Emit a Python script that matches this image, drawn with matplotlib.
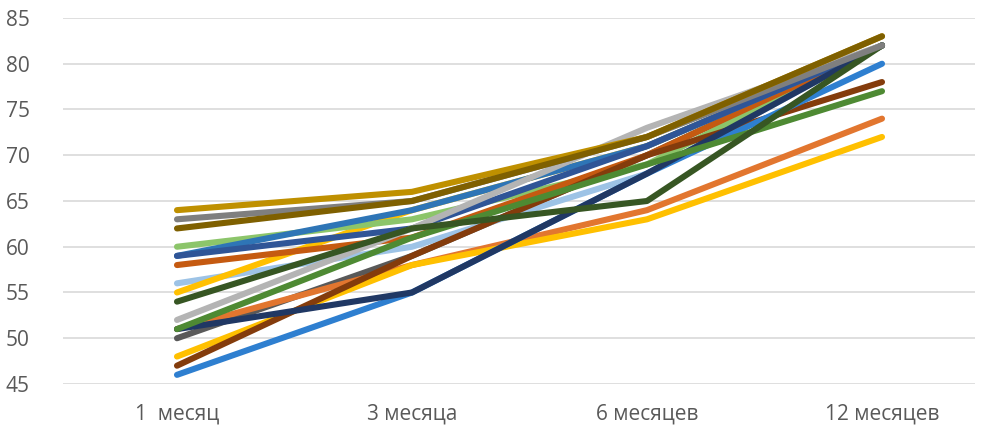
import matplotlib
matplotlib.use("Agg")
import matplotlib.pyplot as plt

periods = ["1  месяц", "3 месяца", "6 месяцев", "12 месяцев"]

# one list per patient group, values at the four follow-up points
s_blue_low = [46, 55, 68, 80]
s_brown = [47, 59, 70, 78]
s_yellow_low = [48, 58, 63, 72]
s_orange_low = [51, 58, 64, 74]
s_darkgray = [50, 59, 70, 82]
s_green = [51, 61, 69, 77]
s_navy = [51, 55, 68, 82]
s_lightgray = [52, 62, 73, 82]
s_darkgreen = [54, 62, 65, 82]
s_yellow = [55, 64, 71, 82]
s_lightblue = [56, 60, 68, 82]
s_orange = [58, 61, 70, 82]
s_blue = [59, 62, 71, 82]
s_blue2 = [59, 64, 71, 82]
s_lightgreen = [60, 63, 69, 82]
s_gray = [63, 65, 72, 82]
s_olive = [62, 65, 72, 83]
s_gold = [64, 66, 72, 83]

series = [
    (s_darkgray, "#595959"),
    (s_lightblue, "#9DC3E6"),
    (s_yellow, "#FFC000"),
    (s_orange_low, "#E2762F"),
    (s_yellow_low, "#FFC000"),
    (s_lightgreen, "#8CC56A"),
    (s_orange, "#C55A11"),
    (s_blue2, "#2E75B6"),
    (s_blue, "#2F5597"),
    (s_brown, "#843C0C"),
    (s_blue_low, "#2E7FD0"),
    (s_navy, "#203864"),
    (s_lightgray, "#B4B4B4"),
    (s_green, "#4E8A33"),
    (s_darkgreen, "#375623"),
    (s_gray, "#7F7F7F"),
    (s_gold, "#BF9000"),
    (s_olive, "#7F6000"),
]

fig = plt.figure(figsize=(9.82, 4.34), dpi=100)
ax = fig.add_axes([63 / 982, 50 / 434, 912 / 982, 366 / 434])

x = list(range(len(periods)))
for vals, col in series:
    ax.plot(x, vals, color=col, lw=4.4, solid_capstyle="round",
            solid_joinstyle="round", zorder=3)

ax.set_ylim(45, 85)
ax.set_yticks(range(45, 90, 5))
ax.set_xlim((63 - 177) / 235, (975 - 177) / 235)
ax.set_xticks(x)
ax.set_xticklabels(periods)

ax.grid(axis="y", color="#D9D9D9", lw=1.2, zorder=0)
for sp in ax.spines.values():
    sp.set_visible(False)
ax.tick_params(axis="both", length=0, labelsize=15, labelcolor="#595959")
ax.tick_params(axis="y", pad=24)
ax.tick_params(axis="x", pad=14)
for lab in ax.get_xticklabels() + ax.get_yticklabels():
    lab.set_family(["Open Sans", "DejaVu Sans"])

fig.savefig("out.png", dpi=100)
